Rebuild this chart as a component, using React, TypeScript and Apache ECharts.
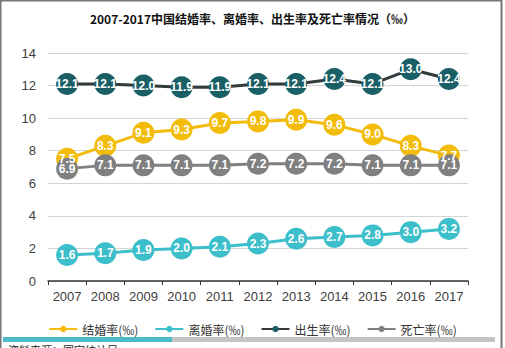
import React, { useEffect, useRef } from "react";
import * as echarts from "echarts";

const years = ["2007", "2008", "2009", "2010", "2011", "2012", "2013", "2014", "2015", "2016", "2017"];
const marriageRate = [7.5, 8.3, 9.1, 9.3, 9.7, 9.8, 9.9, 9.6, 9.0, 8.3, 7.7];
const divorceRate = [1.6, 1.7, 1.9, 2.0, 2.1, 2.3, 2.6, 2.7, 2.8, 3.0, 3.2];
const birthRate = [12.1, 12.1, 12.0, 11.9, 11.9, 12.1, 12.1, 12.4, 12.1, 13.0, 12.4];
const deathRate = [6.9, 7.1, 7.1, 7.1, 7.1, 7.2, 7.2, 7.2, 7.1, 7.1, 7.1];
const seriesNames = ["结婚率(‰)", "离婚率(‰)", "出生率(‰)", "死亡率(‰)"];
const titleText = "2007-2017中国结婚率、离婚率、出生率及死亡率情况（‰）";
const sourceText = "资料来源：国家统计局";

export default function App() {
  const ref = useRef<HTMLDivElement>(null);
  useEffect(() => {
    document.body.style.margin = "0";
    const chart = echarts.init(ref.current!, null, { renderer: "svg" });
    const mk = (name: string, data: number[], color: string, lineColor: string) => ({
      name,
      type: "line",
      data,
      symbol: "circle",
      symbolSize: 22,
      itemStyle: { color },
      lineStyle: { color: lineColor, width: 3 },
      label: {
        show: true,
        position: "inside",
        color: "#fff",
        fontSize: 12,
        fontWeight: "bold",
        fontFamily: "Arial, 'Liberation Sans', sans-serif",
        formatter: (p: any) => p.value.toFixed(1),
      },
    });
    chart.setOption({
      animation: false,
      backgroundColor: "#fff",
      title: {
        text: titleText,
        left: "center",
        top: 7,
        textStyle: {
          fontSize: 12,
          fontWeight: "bold",
          color: "#111",
          fontFamily: "'Noto Sans CJK SC', sans-serif",
        },
      },
      grid: { left: 48, right: 37, top: 53, bottom: 67 },
      xAxis: {
        type: "category",
        data: years,
        boundaryGap: true,
        axisLine: { lineStyle: { color: "#333", width: 1.5 } },
        axisTick: { show: true, length: 4, lineStyle: { color: "#333" } },
        axisLabel: {
          color: "#404040",
          fontSize: 13,
          margin: 9,
          fontFamily: "Arial, 'Liberation Sans', sans-serif",
        },
      },
      yAxis: {
        type: "value",
        min: 0,
        max: 14,
        interval: 2,
        axisLine: { show: false },
        axisTick: { show: false },
        splitLine: { lineStyle: { color: "#d4d4d4" } },
        axisLabel: {
          color: "#404040",
          fontSize: 13,
          margin: 12,
          fontFamily: "Arial, 'Liberation Sans', sans-serif",
        },
      },
      legend: {
        data: seriesNames,
        top: 318,
        left: "center",
        itemWidth: 28,
        itemHeight: 8,
        itemGap: 16,
        textStyle: {
          fontSize: 12,
          color: "#333",
          fontFamily: "'Noto Sans CJK SC', sans-serif",
        },
      },
      graphic: [
        { type: "rect", shape: { x: 0.5, y: 0.5, width: 501, height: 360 }, style: { fill: "none", stroke: "#777", lineWidth: 2 }, z: 100 },
        { type: "rect", shape: { x: 3, y: 337, width: 169, height: 5 }, style: { fill: "#4bbcc8" } },
        { type: "rect", shape: { x: 172, y: 337, width: 323, height: 5 }, style: { fill: "#c4c4c4" } },
        { type: "text", x: 8, y: 344, style: { text: sourceText, fontSize: 11, fill: "#222", fontFamily: "'Noto Sans CJK SC', sans-serif" } },
      ],
      series: [
        mk(seriesNames[0], marriageRate, "#f3bc0b", "#f3bc0b"),
        mk(seriesNames[1], divorceRate, "#3dbfcb", "#3dbfcb"),
        mk(seriesNames[2], birthRate, "#1b5f66", "#333a3c"),
        mk(seriesNames[3], deathRate, "#808080", "#808080"),
      ],
    });
    return () => chart.dispose();
  }, []);
  return <div ref={ref} style={{ width: 505, height: 348 }} />;
}
